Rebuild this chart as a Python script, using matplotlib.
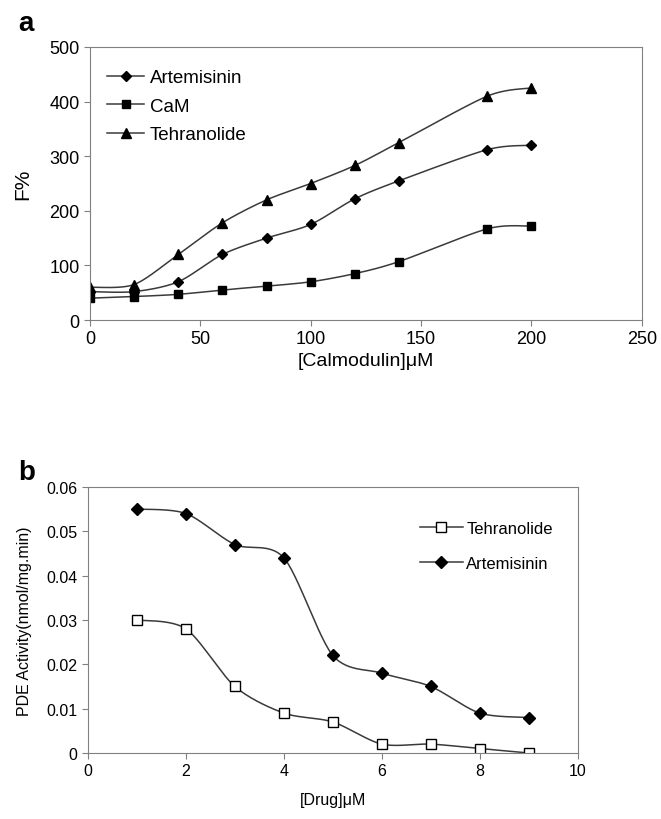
import numpy as np
import matplotlib
matplotlib.use("Agg")
import matplotlib.pyplot as plt
from matplotlib.lines import Line2D

plt.rcParams['font.family'] = ['Liberation Sans Narrow', 'Liberation Sans', 'DejaVu Sans']

# Panel a data
calmodulin = [0, 20, 40, 60, 80, 100, 120, 140, 180, 200]
art_a = [52, 52, 70, 120, 150, 175, 222, 255, 312, 320]
cam_a = [40, 43, 47, 55, 62, 70, 85, 107, 167, 172]
teh_a = [60, 65, 120, 178, 220, 250, 283, 325, 410, 425]

# Panel b data
drug = [1, 2, 3, 4, 5, 6, 7, 8, 9]
teh_b = [0.030, 0.028, 0.015, 0.009, 0.007, 0.002, 0.002, 0.001, 0.0]
art_b = [0.055, 0.054, 0.047, 0.044, 0.022, 0.018, 0.015, 0.009, 0.008]


def smooth(x, y, n=30, k=7.0):
    """Bezier smoothing similar to spreadsheet smoothed lines."""
    x = np.asarray(x, float); y = np.asarray(y, float)
    P = np.column_stack([x, y])
    P = np.vstack([P[0], P, P[-1]])
    out = []
    t = np.linspace(0, 1, n)
    for i in range(1, len(P) - 2):
        p0, p1, p2, p3 = P[i - 1], P[i], P[i + 1], P[i + 2]
        m1 = (p2 - p0) / k
        m2 = (p3 - p1) / k
        c1 = p1 + m1
        c2 = p2 - m2
        seg = ((1 - t) ** 3)[:, None] * p1 + (3 * (1 - t) ** 2 * t)[:, None] * c1 \
            + (3 * (1 - t) * t ** 2)[:, None] * c2 + (t ** 3)[:, None] * p2
        out.append(seg)
    S = np.vstack(out)
    return S[:, 0], S[:, 1]


line_col = '#3a3a3a'
frame_col = '#808080'

fig = plt.figure(figsize=(6.61, 8.2), dpi=100)

# ---------- panel a ----------
ax1 = fig.add_axes([0.136, 0.6085, 0.835, 0.333])
for yv, mk, ms, lab in [(art_a, 'D', 5, 'Artemisinin'), (cam_a, 's', 6, 'CaM'), (teh_a, '^', 7, 'Tehranolide')]:
    sx, sy = smooth(calmodulin, yv)
    ax1.plot(sx, sy, color=line_col, lw=1.1)
    ax1.plot(calmodulin, yv, ls='none', marker=mk, ms=ms, color='black')
ax1.set_xlim(0, 250)
ax1.set_ylim(0, 500)
ax1.set_xticks([0, 50, 100, 150, 200, 250])
ax1.set_yticks([0, 100, 200, 300, 400, 500])
ax1.tick_params(labelsize=13, length=4, color=frame_col, direction='out')
ax1.set_ylabel('F%', fontsize=15, labelpad=12)
ax1.set_xlabel('[Calmodulin]\u03bcM', fontsize=14, labelpad=3)
for s in ax1.spines.values():
    s.set_color(frame_col)
handles = [Line2D([], [], color=line_col, lw=1.1, marker=m, ms=s, mfc='black', mec='black')
           for m, s in [('D', 5), ('s', 6), ('^', 7)]]
ax1.legend(handles, ['Artemisinin', 'CaM', 'Tehranolide'], loc='upper left', frameon=False,
           fontsize=13.5, handlelength=2.0, handletextpad=0.3, labelspacing=0.6,
           bbox_to_anchor=(0.0, 0.98))
fig.text(0.027, 0.962, 'a', fontsize=20, fontweight='bold', fontfamily='Liberation Sans')

# ---------- panel b ----------
ax2 = fig.add_axes([0.133, 0.0805, 0.741, 0.3245])
sx, sy = smooth(drug, teh_b)
ax2.plot(sx, sy, color=line_col, lw=1.1)
ax2.plot(drug, teh_b, ls='none', marker='s', ms=7, mfc='white', mec='black', mew=1.0)
sx, sy = smooth(drug, art_b)
ax2.plot(sx, sy, color=line_col, lw=1.1)
ax2.plot(drug, art_b, ls='none', marker='D', ms=6, color='black')
ax2.set_xlim(0, 10)
ax2.set_ylim(0, 0.06)
ax2.set_xticks([0, 2, 4, 6, 8, 10])
ax2.set_yticks([0, 0.01, 0.02, 0.03, 0.04, 0.05, 0.06])
ax2.set_yticklabels(['0', '0.01', '0.02', '0.03', '0.04', '0.05', '0.06'])
ax2.tick_params(labelsize=11.5, length=4, color=frame_col, direction='out')
ax2.set_ylabel('PDE Activity(nmol/mg.min)', fontsize=11.5, labelpad=10)
ax2.set_xlabel('[Drug]\u03bcM', fontsize=11.5, labelpad=10)
for s in ax2.spines.values():
    s.set_color(frame_col)
h2 = [Line2D([], [], color=line_col, lw=1.1, marker='s', ms=7, mfc='white', mec='black'),
      Line2D([], [], color=line_col, lw=1.1, marker='D', ms=6, mfc='black', mec='black')]
ax2.legend(h2, ['Tehranolide', 'Artemisinin'], loc='upper right', frameon=False,
           fontsize=12, handlelength=2.6, handletextpad=0.2, labelspacing=1.2,
           bbox_to_anchor=(0.98, 0.93))
fig.text(0.027, 0.415, 'b', fontsize=20, fontweight='bold', fontfamily='Liberation Sans')

fig.savefig('out.png', dpi=100)
